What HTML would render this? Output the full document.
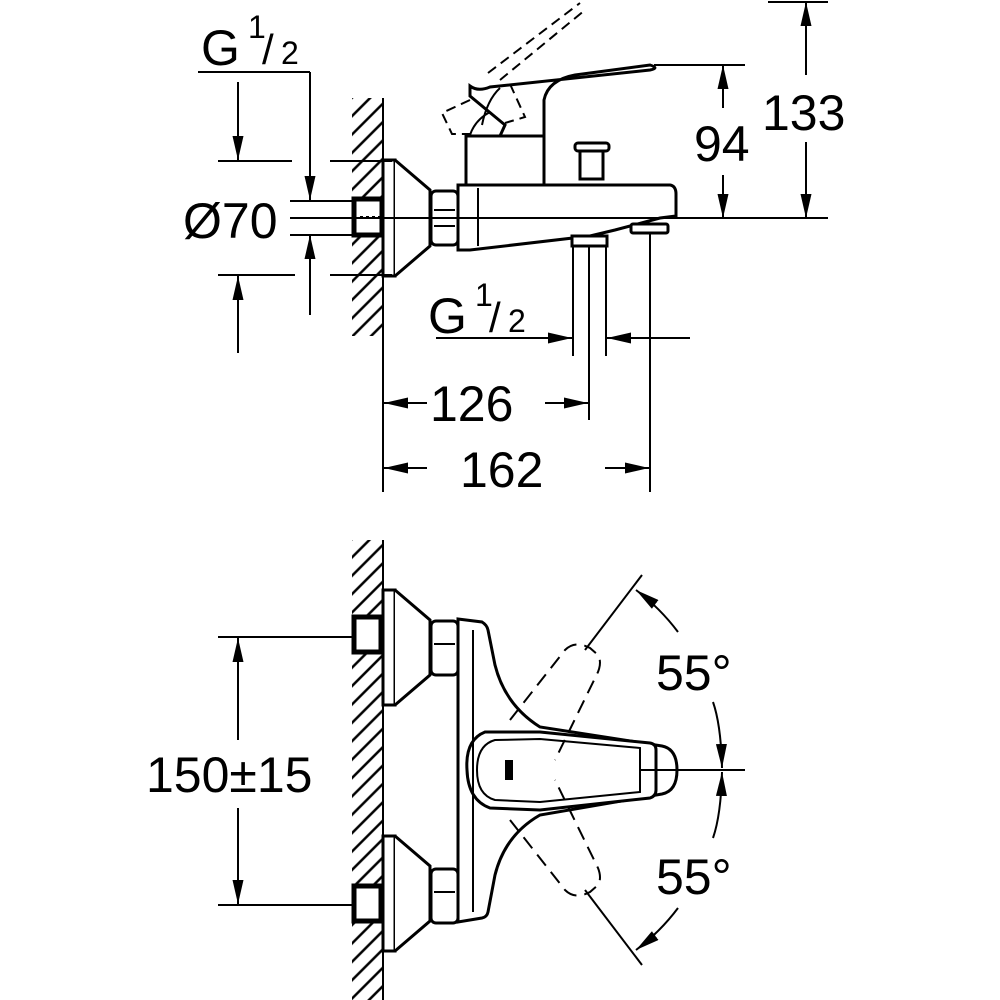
<!DOCTYPE html>
<html><head><meta charset="utf-8"><style>
html,body{margin:0;padding:0;background:#fff}
svg{display:block}
text{font-family:"Liberation Sans",sans-serif;fill:#000}
</style></head><body>
<svg width="1000" height="1000" viewBox="0 0 1000 1000" xmlns="http://www.w3.org/2000/svg">
<defs>
<marker id="a" viewBox="0 0 10 10" refX="10" refY="5" markerWidth="24" markerHeight="11" markerUnits="userSpaceOnUse" preserveAspectRatio="none" orient="auto-start-reverse"><path d="M0,0 L10,5 L0,10 z" fill="#000"/></marker>
<pattern id="h" width="13" height="13" patternUnits="userSpaceOnUse" patternTransform="rotate(-45)"><line x1="0" y1="6" x2="13" y2="6" stroke="#000" stroke-width="2.5"/></pattern>
</defs>
<g stroke="#000" fill="none" stroke-width="2">
<!-- TOP VIEW -->
<rect x="352" y="98" width="30" height="238" fill="url(#h)" stroke="none"/>
<line x1="383" y1="98" x2="383" y2="492"/>
<rect x="383" y="160" width="12" height="116" fill="#fff" stroke-width="3"/>
<path d="M395 160 L430 190 L430 246 L395 276" stroke-width="3" fill="#fff"/>
<rect x="354" y="199" width="28" height="36" fill="#fff" stroke-width="5"/>
<line x1="360" y1="217" x2="383" y2="217" stroke-dasharray="3,3"/>
<rect x="431" y="191" width="27" height="54" rx="5" fill="#fff" stroke-width="3"/>
<line x1="434" y1="210" x2="455" y2="210"/><line x1="434" y1="226" x2="455" y2="226"/>
<path d="M458 185 L670 185 Q676 186 676 194 L676 216 L660 218 L615 230 L590 236 L470 250 L458 250 Z" fill="#fff" stroke-width="3"/>
<line x1="478" y1="188" x2="478" y2="246"/>
<rect x="466" y="136" width="78" height="49" fill="#fff" stroke-width="3"/>
<path d="M544 136 L544 100 Q548 80 575 75 L650 65 Q660 68 650 70 L490 87 Q478 92 470 86 L470 96 L505 125 L500 136" stroke-width="3"/>
<path d="M470 135 Q475 120 490 112" stroke-width="2"/>
<path d="M482 125 Q487 100 500 88" stroke-width="2"/>
<g stroke-dasharray="10,6" stroke-width="2">
<line x1="488" y1="73" x2="580" y2="3"/><line x1="500" y1="80" x2="585" y2="10"/>
<path d="M470 100 L442 113 L452 134 L470 134"/>
<path d="M510 84 L525 117 L505 123"/>
</g>
<rect x="575" y="143" width="34" height="8" rx="3" stroke-width="3" fill="#fff"/>
<rect x="580" y="151" width="23" height="28" stroke-width="3" fill="#fff"/>
<rect x="572" y="236" width="35" height="10" fill="#fff" stroke-width="3"/>
<line x1="573" y1="246" x2="573" y2="356"/><line x1="606" y1="246" x2="606" y2="356"/><line x1="589" y1="246" x2="589" y2="420"/>
<rect x="631" y="224" width="37" height="9" rx="2" fill="#fff" stroke-width="3"/>
<line x1="290" y1="218" x2="828" y2="218"/>
<line x1="768" y1="2" x2="828" y2="2"/>
<line x1="654" y1="65" x2="745" y2="65"/>
<line x1="806" y1="75" x2="806" y2="2" marker-end="url(#a)"/>
<line x1="806" y1="142" x2="806" y2="218" marker-end="url(#a)"/>
<line x1="723" y1="108" x2="723" y2="65" marker-end="url(#a)"/>
<line x1="723" y1="175" x2="723" y2="218" marker-end="url(#a)"/>
<line x1="198" y1="72" x2="310" y2="72"/>
<line x1="310" y1="72" x2="310" y2="200" marker-end="url(#a)"/>
<line x1="310" y1="315" x2="310" y2="235" marker-end="url(#a)"/>
<line x1="238" y1="82" x2="238" y2="160" marker-end="url(#a)"/>
<line x1="238" y1="353" x2="238" y2="276" marker-end="url(#a)"/>
<line x1="218" y1="161" x2="292" y2="161"/><line x1="330" y1="161" x2="392" y2="161"/>
<line x1="218" y1="275" x2="295" y2="275"/><line x1="330" y1="275" x2="392" y2="275"/>
<line x1="290" y1="201" x2="355" y2="201"/><line x1="290" y1="235" x2="355" y2="235"/>
<line x1="436" y1="338" x2="572" y2="338" marker-end="url(#a)"/>
<line x1="690" y1="338" x2="607" y2="338" marker-end="url(#a)"/>
<line x1="650" y1="232" x2="650" y2="492"/>
<line x1="427" y1="403" x2="384" y2="403" marker-end="url(#a)"/>
<line x1="545" y1="403" x2="588" y2="403" marker-end="url(#a)"/>
<line x1="427" y1="468" x2="384" y2="468" marker-end="url(#a)"/>
<line x1="605" y1="468" x2="649" y2="468" marker-end="url(#a)"/>

<!-- BOTTOM VIEW -->
<rect x="352" y="540" width="30" height="460" fill="url(#h)" stroke="none"/>
<line x1="383" y1="540" x2="383" y2="1000"/>
<g stroke-width="3" fill="#fff">
<rect x="383" y="590" width="12" height="115"/>
<path d="M395 590 L430 620 L430 675 L395 705"/>
<rect x="354" y="617" width="27" height="35" stroke-width="5"/>
<rect x="431" y="621" width="27" height="54" rx="5"/>
<rect x="383" y="836" width="12" height="115"/>
<path d="M395 836 L430 866 L430 921 L395 951"/>
<rect x="354" y="886" width="27" height="35" stroke-width="5"/>
<rect x="431" y="869" width="27" height="54" rx="5"/>
<path d="M458 619 L482 622 Q487 625 488 630 L495 665 Q505 705 540 727 L662 746 Q677 749 677 770 Q677 791 662 794 L540 815 Q505 835 495 875 L488 912 Q487 917 482 918 L458 922 Z"/>
<path d="M485 732 Q465 740 467 770 Q468 800 490 808 L540 810 L650 798 Q656 796 656 790 L656 750 Q656 744 650 743 L540 732 Z"/>
<path d="M495 740 Q477 745 477 770 Q477 795 495 800 L540 802 L640 792 L640 748 L540 739 Z" stroke-width="2"/>
</g>
<line x1="434" y1="644" x2="455" y2="644"/><line x1="434" y1="892" x2="455" y2="892"/>
<line x1="473" y1="630" x2="473" y2="912"/>
<rect x="505" y="760" width="8" height="20" fill="#000" stroke="none"/>
<g stroke-dasharray="14,8" stroke-width="2">
<path d="M510 720 L565 650 Q575 640 590 648 L598 655 Q602 662 598 672 L555 760"/>
<path d="M510 820 L565 890 Q575 900 590 892 L598 885 Q602 878 598 868 L555 780"/>
</g>
<line x1="585" y1="650" x2="642" y2="575"/>
<line x1="585" y1="890" x2="642" y2="965"/>
<line x1="640" y1="770" x2="745" y2="770"/>
<path d="M678 632 Q660 608 636 590" marker-end="url(#a)"/>
<path d="M713 702 Q721 725 722 768" marker-end="url(#a)"/>
<path d="M713 838 Q721 815 722 772" marker-end="url(#a)"/>
<path d="M678 908 Q660 932 636 950" marker-end="url(#a)"/>
<line x1="218" y1="637" x2="355" y2="637"/>
<line x1="218" y1="905" x2="355" y2="905"/>
<line x1="238" y1="740" x2="238" y2="638" marker-end="url(#a)"/>
<line x1="238" y1="808" x2="238" y2="904" marker-end="url(#a)"/>
</g>
<g font-size="50">
<text x="762" y="130">133</text>
<text x="694" y="161">94</text>
<text x="183" y="238">Ø70</text>
<text x="430" y="421">126</text>
<text x="460" y="487">162</text>
<text x="146" y="792">150±15</text>
<text x="656" y="690">55°</text>
<text x="656" y="894">55°</text>
<text x="201" y="65">G</text>
<text x="428" y="333">G</text>
</g>
<g font-size="32">
<text x="248" y="38">1</text><text x="262" y="64" font-size="42">/</text><text x="281" y="64">2</text>
<text x="475" y="306">1</text><text x="489" y="332" font-size="42">/</text><text x="508" y="332">2</text>
</g>
</svg>
</body></html>
